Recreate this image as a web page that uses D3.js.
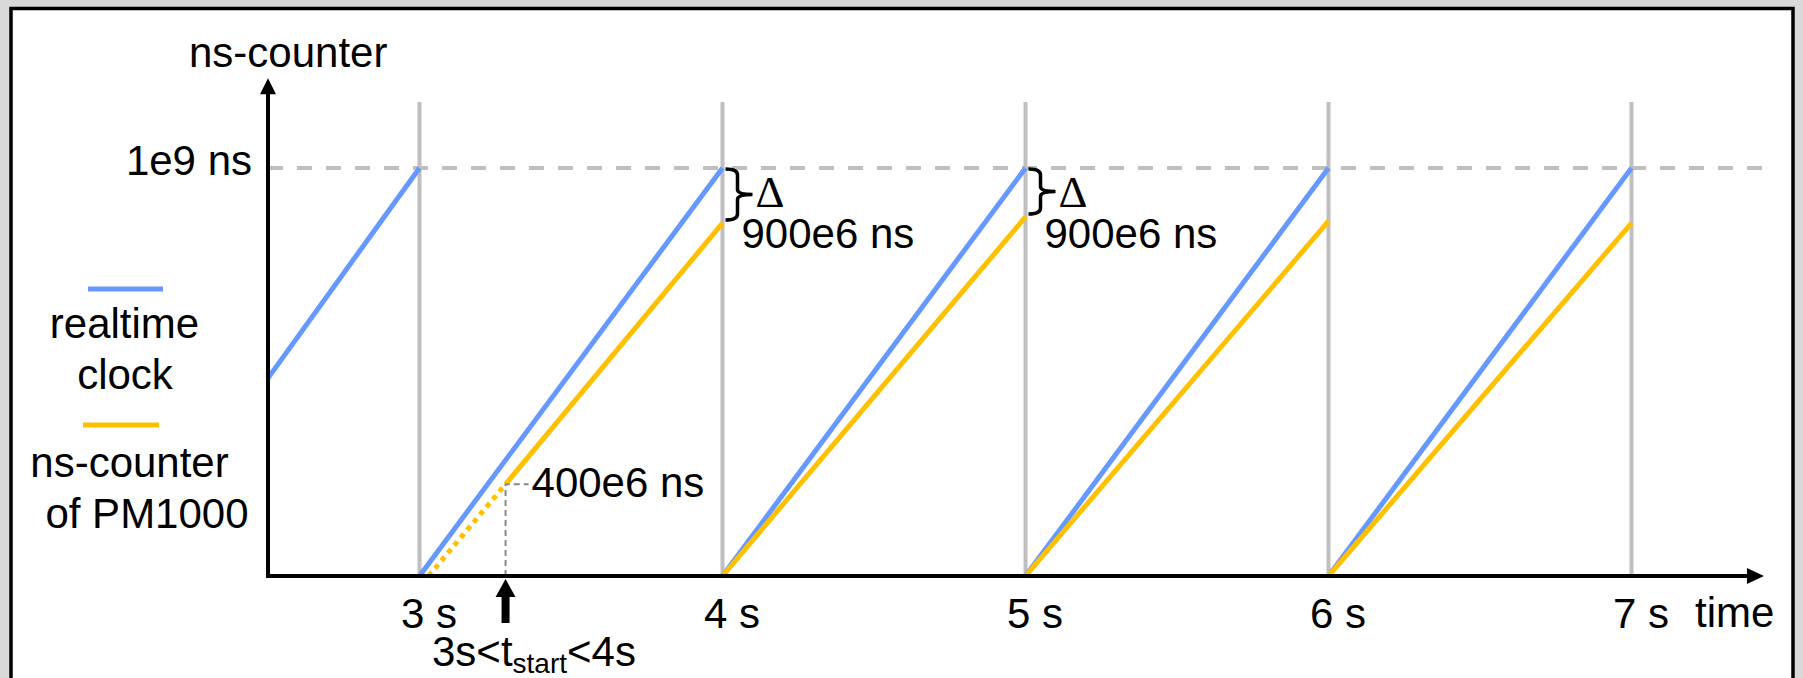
<!DOCTYPE html>
<html>
<head>
<meta charset="utf-8">
<script src="https://cdn.jsdelivr.net/npm/d3@7"></script>
<style>
  html, body { margin: 0; padding: 0; background: #d9d9d9; }
  svg { display: block; font-family: "Liberation Sans", Arial, sans-serif; }
</style>
</head>
<body>
<div id="chart"></div>
<script>
// seconds shown on the time axis
var tickSeconds = [3, 4, 5, 6, 7];
var tickLabels = ["3 s", "4 s", "5 s", "6 s", "7 s"];

// realtime clock: ramps 0 -> 1e9 ns every second
var realtimeT0 = [2.5, 3, 4, 5, 6];
var realtimeT1 = [3, 4, 5, 6, 7];
var realtimeV0 = [0.485e9, 0, 0, 0, 0];
var realtimeV1 = [1e9, 1e9, 1e9, 1e9, 1e9];

// ns-counter of PM1000 (solid parts)
var counterT0 = [3.284, 4, 5, 6];
var counterT1 = [4, 5, 6, 7];
var counterV0 = [0.225e9, 0, 0, 0];
var counterV1 = [0.865e9, 0.88e9, 0.87e9, 0.865e9];

// dotted part before t_start
var dottedT = [3.03, 3.284];
var dottedV = [0, 0.225e9];

var tStart = 3.284;
var startValue = 0.225e9;
var deltaSeconds = [4, 5];
var deltaCounter = [0.865e9, 0.88e9];

var BLUE = "#6699ff";
var ORANGE = "#ffc000";
var GRAY = "#bfbfbf";
var FONT = 42;

var W = 1803, H = 678;

var svg = d3.select("#chart")
  .append("svg")
  .attr("width", W)
  .attr("height", H);

// frame
svg.append("rect")
  .attr("x", 11).attr("y", 8.5)
  .attr("width", 1782).attr("height", 700)
  .attr("fill", "#fff")
  .attr("stroke", "#000")
  .attr("stroke-width", 3.5);

var x = d3.scaleLinear().domain([2.5, 7]).range([268, 1631.5]);
var y = d3.scaleLinear().domain([0, 1e9]).range([576, 168]);

var tEnd = 7.437;     // end of time axis arrow
var vTop = 1.22e9;    // end of counter axis arrow
var vGrid = 1.162e9;  // top of the second lines

// vertical second lines
svg.append("g").selectAll("line")
  .data(tickSeconds)
  .enter().append("line")
  .attr("x1", function(d) { return x(d); })
  .attr("x2", function(d) { return x(d); })
  .attr("y1", y(vGrid))
  .attr("y2", y(0))
  .attr("stroke", GRAY)
  .attr("stroke-width", 4);

// 1e9 dashed line
svg.append("line")
  .attr("x1", x(2.5)).attr("x2", x(tEnd))
  .attr("y1", y(1e9)).attr("y2", y(1e9))
  .attr("stroke", GRAY)
  .attr("stroke-width", 4)
  .attr("stroke-dasharray", "15,14");

// realtime ramps
var blueSegs = realtimeT0.map(function(t, i) {
  return [[t, realtimeV0[i]], [realtimeT1[i], realtimeV1[i]]];
});
var orangeSegs = counterT0.map(function(t, i) {
  return [[t, counterV0[i]], [counterT1[i], counterV1[i]]];
});
var line = d3.line()
  .x(function(d) { return x(d[0]); })
  .y(function(d) { return y(d[1]); });

svg.append("g").selectAll("path")
  .data(blueSegs)
  .enter().append("path")
  .attr("d", line)
  .attr("fill", "none")
  .attr("stroke", BLUE)
  .attr("stroke-width", 5);

svg.append("path")
  .datum(dottedT.map(function(t, i) { return [t, dottedV[i]]; }))
  .attr("d", line)
  .attr("fill", "none")
  .attr("stroke", ORANGE)
  .attr("stroke-width", 5)
  .attr("stroke-dasharray", "5,5");

svg.append("g").selectAll("path")
  .data(orangeSegs)
  .enter().append("path")
  .attr("d", line)
  .attr("fill", "none")
  .attr("stroke", ORANGE)
  .attr("stroke-width", 5);

// t_start guide lines
svg.append("path")
  .attr("d", "M" + x(tStart) + "," + y(0) + "V" + y(startValue) + "H" + (x(tStart) + 23))
  .attr("fill", "none")
  .attr("stroke", "#888")
  .attr("stroke-width", 2)
  .attr("stroke-dasharray", "6,4");

svg.append("text")
  .attr("x", x(tStart) + 26)
  .attr("y", y(startValue) + 13)
  .attr("font-size", FONT)
  .text("400e6 ns");

// axes
svg.append("line")
  .attr("x1", x(2.5)).attr("x2", x(tEnd) - 10)
  .attr("y1", y(0)).attr("y2", y(0))
  .attr("stroke", "#000").attr("stroke-width", 4);
svg.append("path")
  .attr("d", "M" + x(tEnd) + "," + y(0) + "l-17,-8v16z")
  .attr("fill", "#000");

svg.append("line")
  .attr("x1", x(2.5)).attr("x2", x(2.5))
  .attr("y1", y(0) + 2).attr("y2", y(vTop) + 10)
  .attr("stroke", "#000").attr("stroke-width", 4);
svg.append("path")
  .attr("d", "M" + x(2.5) + "," + y(vTop) + "l-8,16h16z")
  .attr("fill", "#000");

// tick labels
var xAxis = d3.axisBottom(x)
  .tickValues(tickSeconds)
  .tickSize(0)
  .tickPadding(0)
  .tickFormat(function(d, i) { return tickLabels[i]; });

var gx = svg.append("g")
  .attr("transform", "translate(0," + y(0) + ")")
  .call(xAxis);
gx.select(".domain").remove();
gx.selectAll("text")
  .attr("font-family", "Liberation Sans, Arial, sans-serif")
  .attr("font-size", FONT)
  .attr("fill", "#000")
  .attr("dx", 9)
  .attr("dy", null)
  .attr("y", 52);

svg.append("text")
  .attr("x", 1695).attr("y", 627)
  .attr("font-size", FONT)
  .text("time");

// y labels
svg.append("text")
  .attr("x", 189).attr("y", 67)
  .attr("font-size", FONT)
  .text("ns-counter");

svg.append("text")
  .attr("x", x(2.5) - 16).attr("y", y(1e9) + 7)
  .attr("text-anchor", "end")
  .attr("font-size", FONT)
  .text("1e9 ns");

// t_start arrow
var ax = x(tStart);
svg.append("path")
  .attr("d", "M" + ax + "," + (y(0) + 3) + "l-10,18h6v26h8v-26h6z")
  .attr("fill", "#000");

var ts = svg.append("text")
  .attr("x", 432).attr("y", 666)
  .attr("font-size", FONT);
ts.append("tspan").text("3s<t");
ts.append("tspan").attr("font-size", 28).attr("dy", 7).text("start");
ts.append("tspan").attr("dy", -7).text("<4s");

// delta braces
deltaSeconds.forEach(function(t, i) {
  var x0 = x(t) + 3;
  var yT = y(1e9) + 1, yB = y(deltaCounter[i]) - 3;
  var ym = (yT + yB) / 2;
  var xv = x0 + 12, xt = x0 + 27;
  svg.append("path")
    .attr("d", "M" + x0 + "," + yT +
      "Q" + xv + "," + yT + " " + xv + "," + (yT + 6) +
      "L" + xv + "," + (ym - 5) +
      "Q" + xv + "," + ym + " " + xt + "," + ym +
      "Q" + xv + "," + ym + " " + xv + "," + (ym + 5) +
      "L" + xv + "," + (yB - 6) +
      "Q" + xv + "," + yB + " " + x0 + "," + yB)
    .attr("fill", "none")
    .attr("stroke", "#000")
    .attr("stroke-width", 3.5);

  svg.append("text")
    .attr("x", x(t) + 33).attr("y", 207)
    .attr("font-family", "Liberation Serif, Times New Roman, serif")
    .attr("font-size", 45)
    .text("\u0394");

  svg.append("text")
    .attr("x", x(t) + 19).attr("y", 248)
    .attr("font-size", FONT)
    .text("900e6 ns");
});

// legend
var legend = svg.append("g");
legend.append("line")
  .attr("x1", 88).attr("x2", 163).attr("y1", 289).attr("y2", 289)
  .attr("stroke", BLUE).attr("stroke-width", 5);
legend.append("line")
  .attr("x1", 83).attr("x2", 159).attr("y1", 425).attr("y2", 425)
  .attr("stroke", ORANGE).attr("stroke-width", 5);

var legendText = ["realtime", "clock", "ns-counter", "of PM1000"];
var legendX = [124.5, 125, 129.5, 147];
var legendY = [338, 389, 477, 528];
legend.selectAll("text")
  .data(legendText)
  .enter().append("text")
  .attr("x", function(d, i) { return legendX[i]; })
  .attr("y", function(d, i) { return legendY[i]; })
  .attr("text-anchor", "middle")
  .attr("font-size", FONT)
  .text(function(d) { return d; });
</script>
</body>
</html>
